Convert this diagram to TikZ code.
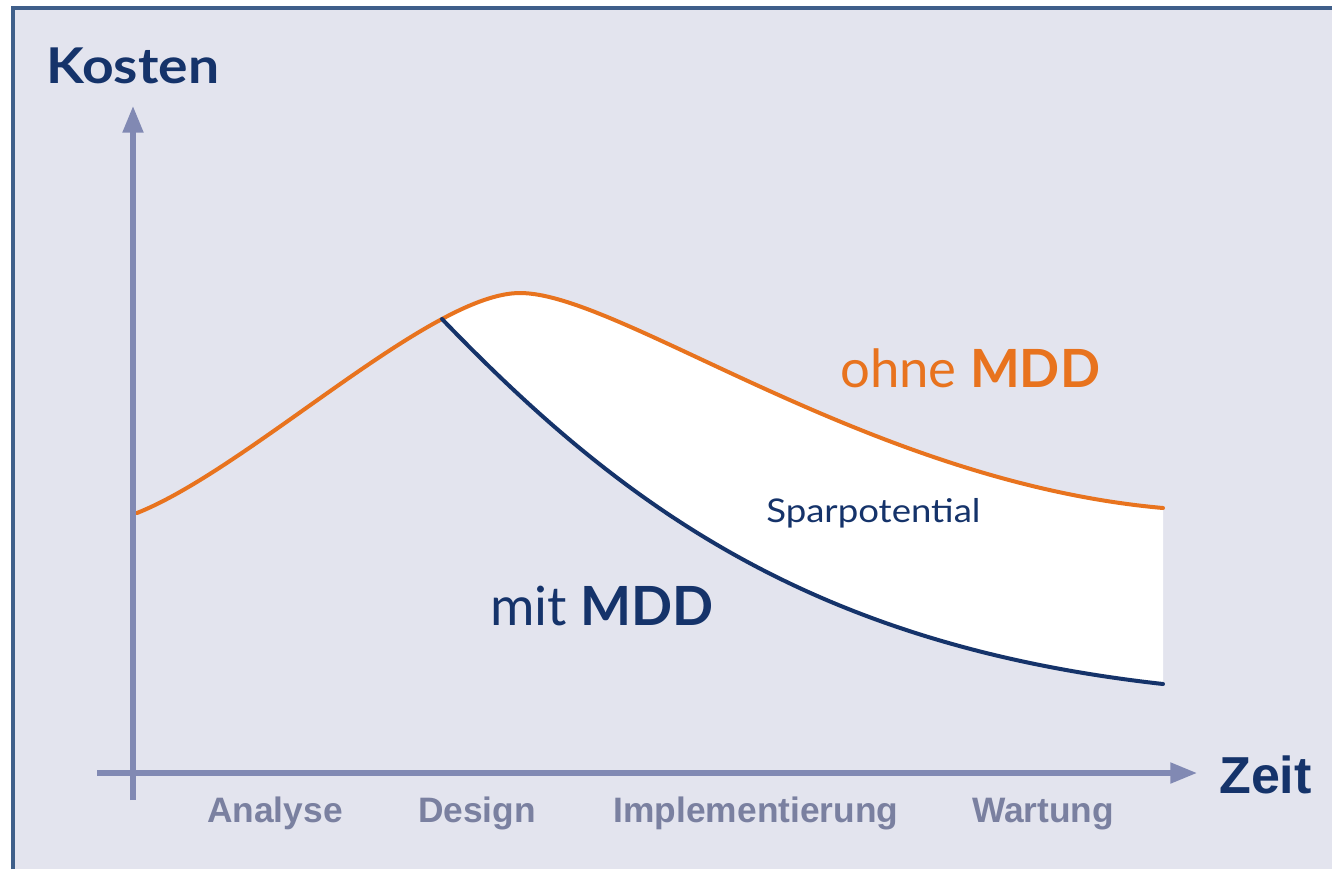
\documentclass[tikz,border=0pt]{standalone}
\usepackage{fontspec}
\setmainfont{Lato}
\newfontfamily\axisfont{Liberation Sans}
\newfontfamily\widefont[FakeStretch=1.12]{Lato}
\usetikzlibrary{arrows.meta, positioning}

\definecolor{bgcol}{HTML}{E3E4EE}
\definecolor{framecol}{HTML}{3F5F8A}
\definecolor{axiscol}{HTML}{8189B3}
\definecolor{phasecol}{HTML}{7A80A0}
\definecolor{ohnecol}{HTML}{E8731E}
\definecolor{mitcol}{HTML}{15336A}

\tikzset{
  axis/.style={draw=axiscol, line width=3.8pt, -{Triangle[length=20pt, width=15pt]}},
  phase/.style={font=\axisfont\bfseries\fontsize{26.5}{30}\selectfont, text=phasecol, anchor=base, inner sep=0pt},
  title/.style={inner sep=0pt, anchor=base west},
  curve/.style={line width=3pt, line cap=round, line join=round}
}

\begin{document}
\begin{tikzpicture}[x=0.75pt, y=-0.75pt]
  \useasboundingbox (0,0) rectangle (1332,869);
  % Background and frame
  \fill[white] (0,0) rectangle (1332,869);
  \fill[bgcol] (13,8) rectangle (1332,869);
  \draw[framecol, line width=2.8pt] (13,869) -- (13,8) -- (1332,8);
  % Curve points
  \coordinate (start) at (137,513);
  \coordinate (branch) at (442,319);
  \coordinate (peak) at (520,293);
  \coordinate (oend) at (1163,508);
  \coordinate (mend) at (1163,684);
  % Savings area
  \fill[white] (branch) .. controls (471.6,303.1) and (498.4,293) .. (peak)
    .. controls (620,293) and (870,482) .. (oend) -- (mend)
    .. controls (813,645) and (623,507) .. (branch) -- cycle;
  % Cost curves
  \draw[curve, ohnecol] (start) .. controls (222.9,478.8) and (347.5,369.5) .. (branch)
    .. controls (471.6,303.1) and (498.4,293) .. (peak)
    .. controls (620,293) and (870,482) .. (oend);
  \draw[curve, mitcol] (branch) .. controls (623,507) and (813,645) .. (mend);
  % Axes
  \coordinate (ybase) at (133,800);
  \coordinate (ytip) at (133,106);
  \coordinate (xbase) at (97,773);
  \coordinate (xtip) at (1197,773);
  \draw[axis] (ybase) -- (ytip);
  \draw[axis] (xbase) -- (xtip);
  % Axis titles
  \node[title, text=mitcol, font=\widefont\fontsize{37}{40}\selectfont\bfseries] (kosten) at (46,83) {Kosten};
  \node[title, text=mitcol, font=\axisfont\bfseries\fontsize{39}{42}\selectfont] (zeit) at (1219,793) {Zeit};
  % Phases
  \node[phase] (analyse) at (275,822) {Analyse};
  \node[phase] (design) at (477,822) {Design};
  \node[phase] (impl) at (756,822) {Implementierung};
  \node[phase] (wartung) at (1043,822) {Wartung};
  % Curve labels
  \node[title, text=ohnecol, font=\fontsize{39.5}{42}\selectfont] (ohne) at (840,387) {ohne \textbf{MDD}};
  \node[title, text=mitcol, font=\fontsize{40.5}{44}\selectfont] (mit) at (490,625) {mit \textbf{MDD}};
  \node[title, text=mitcol, font=\widefont\fontsize{24.5}{28}\selectfont] (spar) at (766,522) {Sparpotential};
\end{tikzpicture}
\end{document}
